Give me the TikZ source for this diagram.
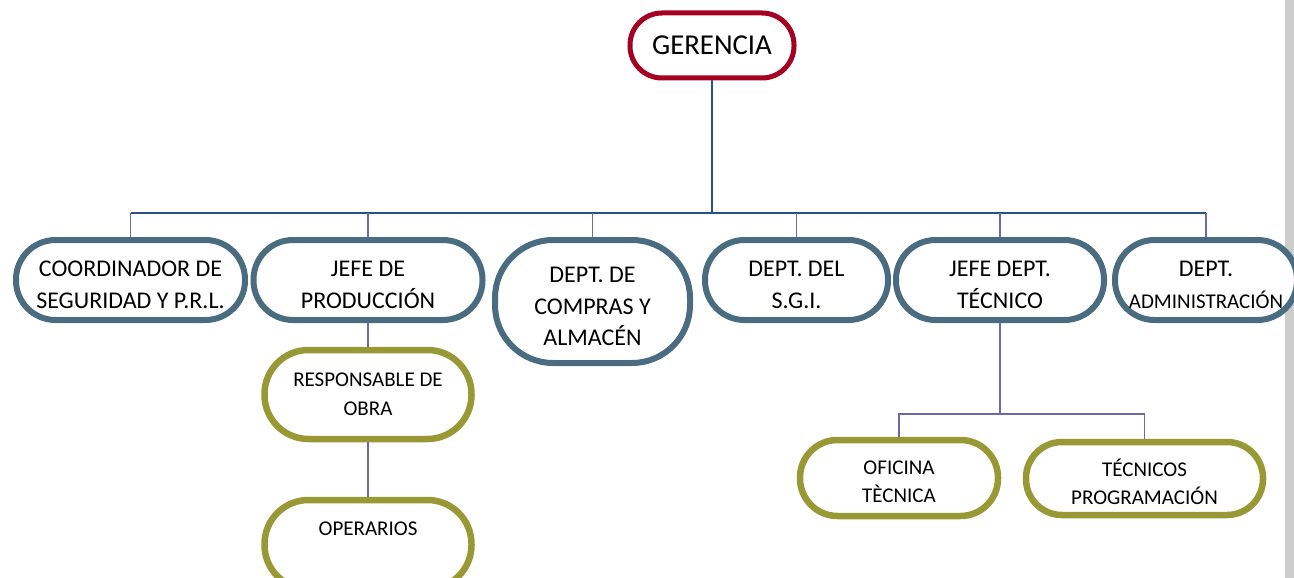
\documentclass[tikz,border=0pt]{standalone}
\usepackage{fontspec}
\setmainfont{Carlito}
\usetikzlibrary{positioning,calc}
\usepackage{xcolor}
\definecolor{gerred}{RGB}{165,0,33}
\definecolor{deptblue}{RGB}{74,108,128}
\definecolor{unitolive}{RGB}{152,152,52}
\definecolor{busblue}{RGB}{40,80,135}
\definecolor{linkpurple}{RGB}{110,105,165}
\definecolor{sidegray}{RGB}{205,205,205}
\newcommand{\topgap}[1]{\rule{0pt}{#1}}

\begin{document}
\begin{tikzpicture}[x=1pt, y=-1pt,
    chief/.style={rectangle, draw=gerred, fill=white, line width=5pt, rounded corners=32pt, minimum width=164pt, minimum height=65pt, inner sep=0pt, font=\fontsize{28.8}{32}\selectfont},
    dept/.style={rectangle, draw=deptblue, fill=white, line width=6pt, rounded corners=39.5pt, minimum height=80pt, inner sep=0pt, align=center, font=\fontsize{24}{31.5}\selectfont},
    unit/.style={rectangle, draw=unitolive, fill=white, line width=6.5pt, inner sep=0pt, align=center, font=\fontsize{21}{28.5}\selectfont},
    bus/.style={draw=busblue, line width=1.8pt},
    link/.style={draw=linkpurple, line width=1.4pt}]
    \useasboundingbox (0,0) rectangle (1294,578);
    \fill[sidegray] (1285,0) rectangle (1294,578);
    % top
    \node [chief] (gerencia) at (712,45.5) {GERENCIA};
    % departments
    \node [dept, minimum width=229pt] (coord) at (130.5,280) {\topgap{25.5pt}COORDINADOR DE\\SEGURIDAD Y P.R.L.};
    \node [dept, minimum width=229pt] (jefeprod) at (368,280) {\topgap{25.5pt}JEFE DE\\PRODUCCIÓN};
    \node [dept, minimum width=195pt, minimum height=123pt, rounded corners=58pt] (compras) at (592.5,301.5) {\topgap{25.5pt}DEPT. DE\\COMPRAS Y\\ALMACÉN};
    \node [dept, minimum width=183pt] (sgi) at (796.5,280) {\topgap{25.5pt}DEPT. DEL\\S.G.I.};
    \node [dept, minimum width=208pt] (jefetec) at (1000,280) {\topgap{25.5pt}JEFE DEPT.\\TÉCNICO};
    \node [dept, minimum width=182pt] (admin) at (1206,280) {\topgap{25.5pt}DEPT.\\{\fontsize{21}{28}\selectfont ADMINISTRACIÓN}};
    % units
    \node [unit, minimum width=207pt, minimum height=89pt, rounded corners=44pt] (respobra) at (368,394.5) {RESPONSABLE DE\\OBRA};
    \node [unit, minimum width=207pt, minimum height=89pt, rounded corners=44pt, text height=14pt, text depth=33pt] (operarios) at (368,544.5) {OPERARIOS};
    \node [unit, minimum width=198pt, minimum height=76pt, rounded corners=37.5pt] (oficina) at (899,478) {\topgap{21.5pt}OFICINA\\TÈCNICA};
    \node [unit, minimum width=237pt, minimum height=73pt, rounded corners=36pt] (tecprog) at (1144.5,478.5) {\topgap{24pt}TÉCNICOS\\PROGRAMACIÓN};
    % connectors
    \coordinate (busL) at (coord.north |- 0,213);
    \coordinate (tecbus) at (jefetec.south |- 0,414);
    \draw[bus] (gerencia.south) -- (gerencia.south |- busL);
    \draw[bus] (busL) -- (admin.north |- busL);
    \foreach \n in {coord, jefeprod, compras, sgi, jefetec, admin}
        \draw[link] (\n.north) -- (\n.north |- busL);
    \draw[link] (jefeprod.south) -- (respobra.north);
    \draw[link] (respobra.south) -- (operarios.north);
    \draw[link] (jefetec.south) -- (tecbus);
    \draw[link] (oficina.north) |- (tecbus) -| (tecprog.north);
\end{tikzpicture}
\end{document}
